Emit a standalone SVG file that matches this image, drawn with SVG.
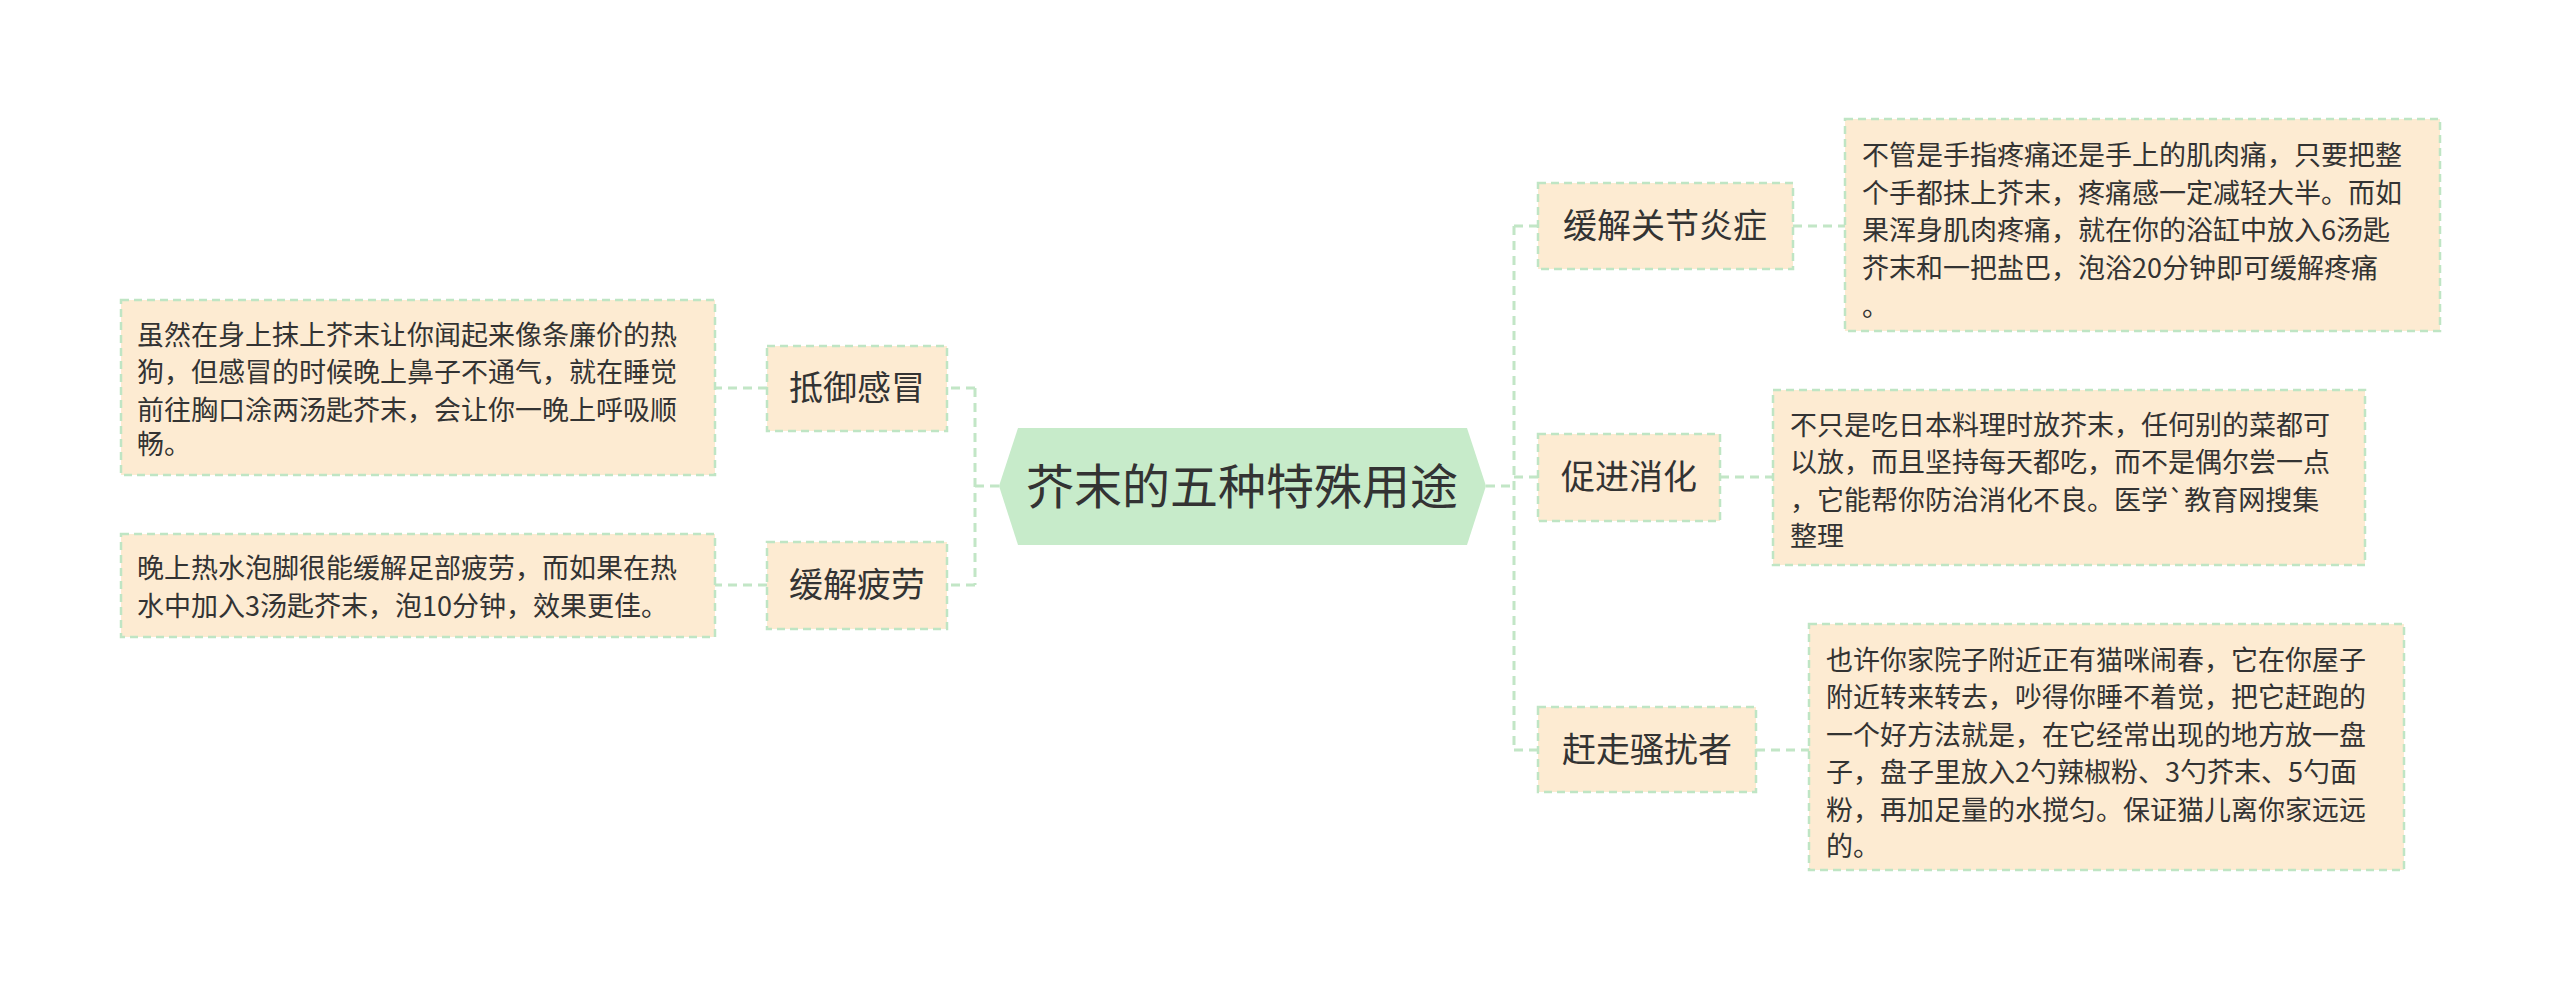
<svg xmlns="http://www.w3.org/2000/svg" width="2560" height="993" viewBox="0 0 2560 993">
<style>
.bx{fill:#fdebd2;stroke:#bfe5c4;stroke-width:2.5;stroke-dasharray:8 5}
.ln{fill:none;stroke:#c2e6c6;stroke-width:3;stroke-dasharray:9 6}
text{font-family:"Noto Sans CJK SC","Liberation Sans",sans-serif;fill:#333}
.t{font-size:27px}
.n{font-size:34px}
</style>
<rect width="2560" height="993" fill="#fff"/>
<g id="connectors">
<path class="ln" d="M1486 486 H1514 M1514 226 V750 M1514 226 H1538 M1514 477 H1538 M1514 750 H1538"/>
<path class="ln" d="M999 486 H975 M975 388 V585 M975 388 H947 M975 585 H947"/>
<path class="ln" d="M767 388 H715 M767 585 H715 M1793 226 H1845 M1720 477 H1773 M1756 750 H1809"/>
</g>
<g id="center">
<polygon points="1018,428 1467,428 1486,486 1467,545 1018,545 999,486" fill="#c7ebca"/>
<text x="1242" y="504" font-size="48" text-anchor="middle">芥末的五种特殊用途</text>
</g>
<g id="n1"><rect class="bx" x="767" y="346" width="180" height="85"/><text class="n" x="857" y="400" text-anchor="middle">抵御感冒</text></g>
<g id="n2"><rect class="bx" x="767" y="542" width="180" height="87"/><text class="n" x="857" y="597" text-anchor="middle">缓解疲劳</text></g>
<g id="n1t"><rect class="bx" x="121" y="300" width="594" height="175"/>
<text class="t" x="137"><tspan x="137" y="345">虽然在身上抹上芥末让你闻起来像条廉价的热</tspan><tspan x="137" y="382">狗，但感冒的时候晚上鼻子不通气，就在睡觉</tspan><tspan x="137" y="420">前往胸口涂两汤匙芥末，会让你一晚上呼吸顺</tspan><tspan x="137" y="454">畅。</tspan></text></g>
<g id="n2t"><rect class="bx" x="121" y="534" width="594" height="103"/>
<text class="t" x="137"><tspan x="137" y="578">晚上热水泡脚很能缓解足部疲劳，而如果在热</tspan><tspan x="137" y="616">水中加入3汤匙芥末，泡10分钟，效果更佳。</tspan></text></g>
<g id="n3"><rect class="bx" x="1538" y="183" width="255" height="86"/><text class="n" x="1665" y="238" text-anchor="middle">缓解关节炎症</text></g>
<g id="n4"><rect class="bx" x="1538" y="434" width="182" height="87"/><text class="n" x="1629" y="489" text-anchor="middle">促进消化</text></g>
<g id="n5"><rect class="bx" x="1538" y="707" width="218" height="85"/><text class="n" x="1647" y="762" text-anchor="middle">赶走骚扰者</text></g>
<g id="n3t"><rect class="bx" x="1845" y="119" width="595" height="212"/>
<text class="t"><tspan x="1862" y="165">不管是手指疼痛还是手上的肌肉痛，只要把整</tspan><tspan x="1862" y="203">个手都抹上芥末，疼痛感一定减轻大半。而如</tspan><tspan x="1862" y="240">果浑身肌肉疼痛，就在你的浴缸中放入6汤匙</tspan><tspan x="1862" y="278">芥末和一把盐巴，泡浴20分钟即可缓解疼痛</tspan><tspan x="1862" y="316">。</tspan></text></g>
<g id="n4t"><rect class="bx" x="1773" y="390" width="592" height="175"/>
<text class="t"><tspan x="1790" y="435">不只是吃日本料理时放芥末，任何别的菜都可</tspan><tspan x="1790" y="472">以放，而且坚持每天都吃，而不是偶尔尝一点</tspan><tspan x="1790" y="510">，它能帮你防治消化不良。医学`教育网搜集</tspan><tspan x="1790" y="546">整理</tspan></text></g>
<g id="n5t"><rect class="bx" x="1809" y="624" width="595" height="246"/>
<text class="t"><tspan x="1826" y="670">也许你家院子附近正有猫咪闹春，它在你屋子</tspan><tspan x="1826" y="707">附近转来转去，吵得你睡不着觉，把它赶跑的</tspan><tspan x="1826" y="745">一个好方法就是，在它经常出现的地方放一盘</tspan><tspan x="1826" y="782">子，盘子里放入2勺辣椒粉、3勺芥末、5勺面</tspan><tspan x="1826" y="820">粉，再加足量的水搅匀。保证猫儿离你家远远</tspan><tspan x="1826" y="856">的。</tspan></text></g>
</svg>
